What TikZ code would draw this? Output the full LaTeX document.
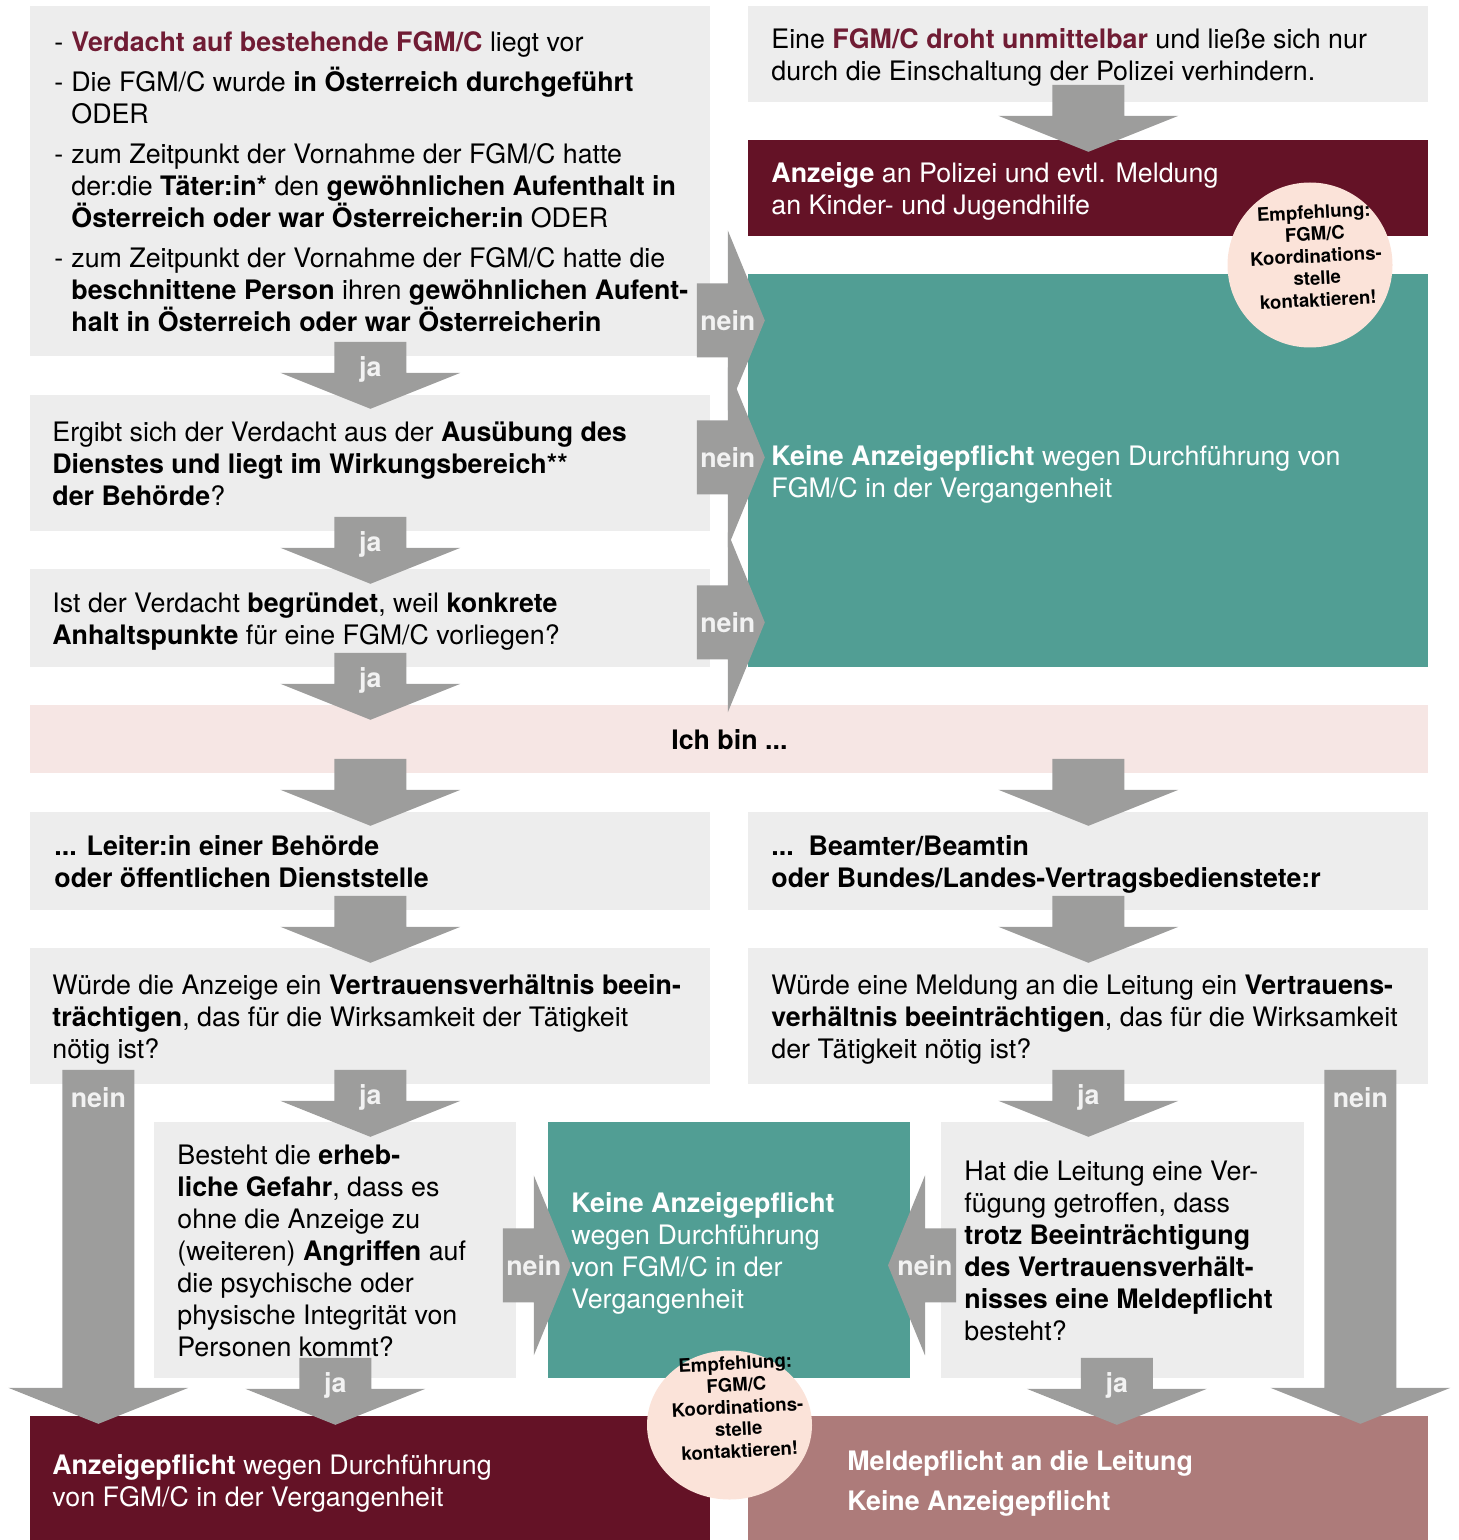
\documentclass[tikz,border=0pt]{standalone}
\usepackage{fontspec}
\setmainfont{TeX Gyre Heros}
\usetikzlibrary{calc}
\usetikzlibrary{shapes.geometric}

\definecolor{boxgrey}{HTML}{EDEDED}
\definecolor{arrowgrey}{HTML}{9D9D9C}
\definecolor{darkred}{HTML}{641226}
\definecolor{accent}{HTML}{701C34}
\definecolor{tealgreen}{HTML}{519E94}
\definecolor{bandpink}{HTML}{F6E6E4}
\definecolor{hintrose}{HTML}{FBE3D9}
\definecolor{oldrose}{HTML}{AD7B7A}
\definecolor{labelgrey}{HTML}{F2F2F2}

\newcommand{\bodyfont}{\fontsize{13.4}{16}\selectfont}
\newcommand{\dashitem}{\makebox[8.5pt][l]{-}}
\newcommand{\dashgap}{\hspace*{8.5pt}}

\tikzset{
  box/.style={anchor=north west, inner sep=0pt, fill=boxgrey},
  boxtext/.style={anchor=west, align=left, inner sep=0pt, font=\bodyfont, yshift=-1.5pt},
  flowarrow/.style={fill=arrowgrey},
  flowlabel/.style={font=\bodyfont\bfseries, text=labelgrey, inner sep=0pt},
  hint/.style={ellipse, fill=hintrose, inner sep=0pt},
  hinttext/.style={font=\fontsize{9.3}{11}\selectfont\bfseries, align=center, rotate=3, inner sep=0pt},
}

% block arrow pointing down: [shift]{source}{length}{label}
\newcommand{\flowdown}[4][(0,0)]{%
  \fill[flowarrow] ($(#2.south)+(-36,-15)+#1$) -- ++(72,0) -- ++(0,#3-36) -- ++(54,0)
    -- ++(-90,36) -- ++(-90,-36) -- ++(54,0) -- cycle;
  \node[flowlabel] (lbl-#2) at ($(#2.south)+(0,13)+#1$) {#4};
}
% block arrow pointing right: [y shift]{source}{label}
\newcommand{\flowright}[3][0]{%
  \fill[flowarrow] ($(#2.east)+(-14,#1-37)$) -- ++(31,0) -- ++(0,-53) -- ++(37,90)
    -- ++(-37,90) -- ++(0,-53) -- ++(-31,0) -- cycle;
  \node[flowlabel] (lbl-#2) at ($(#2.east)+(17,#1)$) {#3};
}
% block arrow pointing left: [y shift]{source}{label}
\newcommand{\flowleft}[3][0]{%
  \fill[flowarrow] ($(#2.west)+(15,#1-37)$) -- ++(-31,0) -- ++(0,-53) -- ++(-37,90)
    -- ++(37,90) -- ++(0,-53) -- ++(31,0) -- cycle;
  \node[flowlabel] (lbl-#2) at ($(#2.west)+(-16,#1)$) {#3};
}

\begin{document}
\begin{tikzpicture}[x=0.5pt,y=-0.5pt]
  \useasboundingbox (0,0) rectangle (1458,1540);

  % questions on the suspicion (left column)
  \node[box, minimum width=340pt, minimum height=175pt] (q1) at (30,6) {};
  \node[box, minimum width=340pt, minimum height=68pt] (q2) at (30,395) {};
  \node[box, minimum width=340pt, minimum height=49pt] (q3) at (30,569) {};

  % imminent danger and outcomes (right column)
  \node[box, minimum width=340pt, minimum height=48pt] (danger) at (748,6) {};
  \node[box, fill=darkred, minimum width=340pt, minimum height=48pt] (report) at (748,140) {};
  \node[box, fill=tealgreen, minimum width=340pt, minimum height=196.5pt] (noduty) at (748,274) {};

  % band
  \node[box, fill=bandpink, minimum width=699pt, minimum height=34pt] (iam) at (30,705) {};

  % roles and their questions
  \node[box, minimum width=340pt, minimum height=49pt] (head) at (30,812) {};
  \node[box, minimum width=340pt, minimum height=49pt] (staff) at (748,812) {};
  \node[box, minimum width=340pt, minimum height=68pt] (trustL) at (30,948) {};
  \node[box, minimum width=340pt, minimum height=68pt] (trustR) at (748,948) {};
  \node[box, minimum width=181pt, minimum height=128pt] (harm) at (154,1122) {};
  \node[box, fill=tealgreen, minimum width=181pt, minimum height=128pt] (noduty2) at (548,1122) {};
  \node[box, minimum width=181.5pt, minimum height=128pt] (order) at (941,1122) {};
  \node[box, fill=darkred, minimum width=340pt, minimum height=62pt] (duty) at (30,1416) {};
  \node[box, fill=oldrose, minimum width=340pt, minimum height=62pt] (notify) at (748,1416) {};

  % texts
  \node[boxtext, yshift=1.5pt] (q1t) at ($(q1.west)+(24,0)$) {%
    \dashitem\textcolor{accent}{\textbf{Verdacht auf bestehende FGM/C}} liegt vor\\[4pt]
    \dashitem Die FGM/C wurde \textbf{in Österreich durchgeführt}\\
    \dashgap ODER\\[4pt]
    \dashitem zum Zeitpunkt der Vornahme der FGM/C hatte\\
    \dashgap der:die \textbf{Täter:in*} den \textbf{gewöhnlichen Aufenthalt in}\\
    \dashgap\textbf{Österreich oder war Österreicher:in} ODER\\[4pt]
    \dashitem zum Zeitpunkt der Vornahme der FGM/C hatte die\\
    \dashgap\textbf{beschnittene Person} ihren \textbf{gewöhnlichen Aufent-}\\
    \dashgap\textbf{halt in Österreich oder war Österreicherin}};
  \node[boxtext, yshift=1.5pt] (q2t) at ($(q2.west)+(22,0)$) {Ergibt sich der Verdacht aus der \textbf{Ausübung des}\\
    \textbf{Dienstes und liegt im Wirkungsbereich**}\\\textbf{der Behörde}?};
  \node[boxtext] (q3t) at ($(q3.west)+(22,0)$) {Ist der Verdacht \textbf{begründet}, weil \textbf{konkrete}\\
    \textbf{Anhaltspunkte} für eine FGM/C vorliegen?};
  \node[boxtext] (dangert) at ($(danger.west)+(23,0)$) {Eine \textcolor{accent}{\textbf{FGM/C droht unmittelbar}} und ließe sich nur\\
    durch die Einschaltung der Polizei verhindern.};
  \node[boxtext, text=white] (reportt) at ($(report.west)+(23,0)$) {\textbf{Anzeige} an Polizei und evtl. Meldung\\
    an Kinder- und Jugendhilfe};
  \node[boxtext, text=white, yshift=-0.5pt] (nodutyt) at ($(noduty.west)+(23,0)$) {\textbf{Keine Anzeigepflicht} wegen Durchführung von\\
    FGM/C in der Vergangenheit};
  \node[boxtext, anchor=center, yshift=1.5pt] (iamt) at (iam) {\textbf{Ich bin ...}};
  \node[boxtext, yshift=1.5pt] (headt) at ($(head.west)+(24,0)$) {\textbf{... Leiter:in einer Behörde}\\
    \textbf{oder öffentlichen Dienststelle}};
  \node[boxtext] (stafft) at ($(staff.west)+(23,0)$) {\textbf{...\ \ Beamter/Beamtin}\\
    \textbf{oder Bundes/Landes-Vertragsbedienstete:r}};
  \node[boxtext] (trustLt) at ($(trustL.west)+(22,0)$) {Würde die Anzeige ein \textbf{Vertrauensverhältnis beein-}\\
    \textbf{trächtigen}, das für die Wirksamkeit der Tätigkeit\\nötig ist?};
  \node[boxtext] (trustRt) at ($(trustR.west)+(23,0)$) {Würde eine Meldung an die Leitung ein \textbf{Vertrauens-}\\
    \textbf{verhältnis beeinträchtigen}, das für die Wirksamkeit\\der Tätigkeit nötig ist?};
  \node[boxtext, yshift=1pt] (harmt) at ($(harm.west)+(23,0)$) {Besteht die \textbf{erheb-}\\\textbf{liche Gefahr}, dass es\\
    ohne die Anzeige zu\\(weiteren) \textbf{Angriffen} auf\\die psychische oder\\
    physische Integrität von\\Personen kommt?};
  \node[boxtext, text=white] (noduty2t) at ($(noduty2.west)+(23,0)$) {\textbf{Keine Anzeigepflicht}\\
    wegen Durchführung\\von FGM/C in der\\Vergangenheit};
  \node[boxtext, yshift=1pt] (ordert) at ($(order.west)+(23,0)$) {Hat die Leitung eine Ver-\\fügung getroffen, dass\\
    \textbf{trotz Beeinträchtigung}\\\textbf{des Vertrauensverhält-}\\\textbf{nisses eine Meldepflicht}\\besteht?};
  \node[boxtext, text=white, yshift=-1pt] (dutyt) at ($(duty.west)+(22,0)$) {\textbf{Anzeigepflicht} wegen Durchführung\\
    von FGM/C in der Vergangenheit};
  \node[boxtext, text=white, yshift=-1pt] (notifyt) at ($(notify.west)+(99,0)$) {\textbf{Meldepflicht an die Leitung}\\[4pt]
    \textbf{Keine Anzeigepflicht}};

  % block arrows
  \flowdown{q1}{67}{ja}
  \flowdown{q2}{67}{ja}
  \flowdown{q3}{67}{ja}
  \flowdown[(0,-3)]{danger}{67}{}
  \flowright[139]{q1}{nein}
  \flowright[-6]{q2}{nein}
  \flowright[4]{q3}{nein}
  \flowdown[(-359,0)]{iam}{67}{}
  \flowdown[(359,0)]{iam}{67}{}
  \flowdown{head}{67}{}
  \flowdown{staff}{67}{}
  \flowdown{trustL}{67}{ja}
  \flowdown[(-272,0)]{trustL}{354}{nein}
  \flowdown{trustR}{67}{ja}
  \flowdown[(272,0)]{trustR}{354}{nein}
  \flowright[15]{harm}{nein}
  \flowleft[15]{order}{nein}
  \flowdown[(0,-6)]{harm}{67}{ja}
  \flowdown[(-6,-6)]{order}{67}{ja}

  % recommendation bubbles
  \node[hint, minimum width=82.5pt, minimum height=82.5pt] (tipA) at (1310,265) {};
  \node[hinttext] (tipAt) at ($(tipA)+(6,-9)$) {Empfehlung:\\FGM/C\\Koordinations-\\stelle\\kontaktieren!};
  \node[hint, minimum width=82.5pt, minimum height=74.5pt] (tipB) at (729.5,1425) {};
  \node[hinttext] (tipBt) at ($(tipB)+(8,-18)$) {Empfehlung:\\FGM/C\\Koordinations-\\stelle\\kontaktieren!};
\end{tikzpicture}
\end{document}
